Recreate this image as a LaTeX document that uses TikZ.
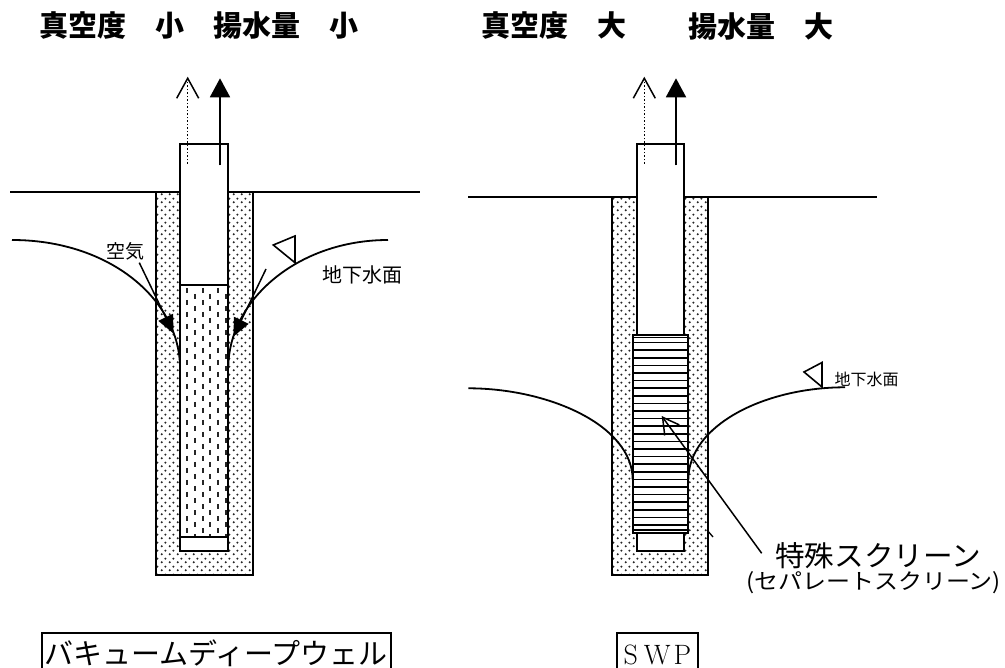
\documentclass[tikz,border=0pt]{standalone}
\usepackage{fontspec}
\newfontfamily\jp{Noto Sans CJK JP}
\usetikzlibrary{arrows.meta,patterns.meta}

% gravel filter: staggered small dots
\tikzdeclarepattern{
  name=sand,
  type=uncolored,
  bounding box={(0pt,0pt) and (8pt,8pt)},
  tile size={(8pt,8pt)},
  code={
    \fill (2pt,2pt) circle (1.25pt);
    \fill (6pt,6pt) circle (1.25pt);
  }
}

\tikzset{
  wall/.style={line width=1.8pt},
  sandfill/.style={pattern=sand, pattern color=black!85},
  watertable/.style={line width=1.8pt},
  airflow/.style={dotted, line width=1.5pt,
    -{Straight Barb[length=20pt,width=22pt,line width=1.5pt]}},
  waterflow/.style={line width=1.9pt, -{Triangle[length=19pt,width=20pt]}},
  airarrow/.style={line width=1.5pt, -{Triangle[length=18pt,width=16pt]}},
  leader/.style={line width=1.5pt,
    -{Straight Barb[length=16pt,width=18pt,line width=1.5pt]}},
  slotdash/.style={line width=2pt, black!85, dash pattern=on 5pt off 7pt},
  title/.style={font=\jp\bfseries\fontsize{29}{34}\selectfont, anchor=west, inner sep=0pt},
  smalllabel/.style={font=\jp\fontsize{19}{22}\selectfont, inner sep=0pt},
  framed/.style={draw, line width=1.8pt, anchor=north west, inner ysep=0pt,
    text height=31pt, text depth=20pt},
  levelmark/.style={line width=1.6pt, line join=miter}
}

\begin{document}
\begin{tikzpicture}[x=1pt,y=-1pt]
\useasboundingbox (0,0) rectangle (1005,668);

% ---------- titles ----------
\node[title] (titleA) at (39.5,26) {真空度　小　揚水量　小};
\node[title] (titleB) at (481.5,26) {真空度　大};
\node[title] (titleC) at (688.5,26) {揚水量　大};

% ================= vacuum deep well =================
\fill[sandfill] (155.7,192) rectangle (252.7,575.3);
\draw[wall] (155.7,192) |- (252.7,575.3) -- (252.7,192);
\draw[wall] (10,192) -- (180,192);
\draw[wall] (228.3,192) -- (420,192);
\filldraw[wall, fill=white] (180,144) rectangle (228.3,550.7);
% slotted screen
\foreach \x in {186.7,202.5,218.3}
  \draw[slotdash] (\x,288) -- (\x,537);
\foreach \x in {194.6,210.4,225.8}
  \draw[slotdash, dash phase=6pt] (\x,288) -- (\x,537);
\draw[wall] (180,285.3) -- (228.3,285.3);
\draw[wall] (180,537) -- (228.3,537);
\draw[wall] (180,144) rectangle (228.3,550.7);

% discharge arrows
\coordinate (airA0) at (187.7,164);
\coordinate (airA1) at (187.7,76.7);
\coordinate (watA0) at (220,165.3);
\coordinate (watA1) at (220,78.3);
\draw[airflow] (airA0) -- (airA1);
\draw[waterflow] (watA0) -- (watA1);

% drawdown curves
\coordinate (wtAl) at (12,240);
\coordinate (wtAlw) at (180,368);
\coordinate (wtAr) at (388,240);
\coordinate (wtArw) at (228.3,368);
\draw[watertable] (wtAl) .. controls (110,240) and (180,300) .. (wtAlw);
\draw[watertable] (wtArw) .. controls (228.3,300) and (298,240) .. (wtAr);

% air inflow
\coordinate (inL0) at (139.3,262.7);
\coordinate (inL1) at (173.5,333.5);
\coordinate (inR0) at (266,269);
\coordinate (inR1) at (233.5,336.5);
\draw[airarrow] (inL0) -- (inL1);
\draw[airarrow] (inR0) -- (inR1);

\node[smalllabel] (air) at (125,251) {空気};
\draw[levelmark] (273.3,245) -- (295,236) -- (295,262.7) -- cycle;
\node[smalllabel, font=\jp\fontsize{20}{24}\selectfont] (wtlabelA) at (362,274.5) {地下水面};

\node[framed, font=\jp\fontsize{29}{34}\selectfont, inner xsep=3pt] (nameA)
  at (40.7,632.3) {バキュームディープウェル};

% ================= SWP =================
\fill[sandfill] (612.3,196.7) rectangle (708.3,575.3);
\draw[wall] (612.3,196.7) |- (708.3,575.3) -- (708.3,196.7);
\draw[wall] (468,196.7) -- (636.7,196.7);
\draw[wall] (684.3,196.7) -- (877,196.7);
\filldraw[wall, fill=white] (636.7,144) rectangle (684.3,550.7);
% separate screen
\filldraw[wall, fill=white] (632.7,335) rectangle (688.3,532.7);
\foreach \k in {1,...,25}
  \draw[line width=1.6pt] (632.7,335+7.6*\k) -- (688.3,335+7.6*\k);
\draw[line width=1.4pt] (632.7,337.8) -- (688.3,337.8);
\draw[line width=1.4pt] (632.7,529.9) -- (688.3,529.9);
\draw[wall] (632.7,335) rectangle (688.3,532.7);
\draw[line width=1.3pt] (708.3,531.5) -- (713,537);

\coordinate (airB0) at (644.3,164);
\coordinate (airB1) at (644.3,76.7);
\coordinate (watB0) at (676,165.3);
\coordinate (watB1) at (676,78.3);
\draw[airflow] (airB0) -- (airB1);
\draw[waterflow] (watB0) -- (watB1);

\coordinate (wtBl) at (468.3,388.3);
\coordinate (wtBlw) at (632.7,480);
\coordinate (wtBr) at (845,387.3);
\coordinate (wtBrw) at (688.3,480);
\draw[watertable] (wtBl) .. controls (548,388.3) and (632.7,425) .. (wtBlw);
\draw[watertable] (wtBrw) .. controls (688.3,425) and (765,387.3) .. (wtBr);

\draw[levelmark] (804,372) -- (822,362.5) -- (822,387) -- cycle;
\node[smalllabel, font=\jp\fontsize{16}{19}\selectfont] (wtlabelB) at (866.5,379) {地下水面};

\node[inner sep=0pt, anchor=west, font=\jp\fontsize{28.5}{32}\selectfont]
  (screenname) at (775,556) {\scalebox{1.04}[1]{特殊スクリーン}};
\node[inner sep=0pt, anchor=west, font=\jp\fontsize{22}{26}\selectfont]
  (screensub) at (746,583) {\scalebox{1.09}[1]{(セパレートスクリーン)}};
\coordinate (ldr0) at (761.7,553.3);
\coordinate (ldr1) at (661.7,416);
\draw[leader] (ldr0) -- (ldr1);

\node[framed, font=\fontsize{28}{34}\selectfont, inner xsep=7pt] (nameB)
  at (615.7,632.3) {S\hspace{6pt}W\hspace{3pt}P};

\end{tikzpicture}
\end{document}
